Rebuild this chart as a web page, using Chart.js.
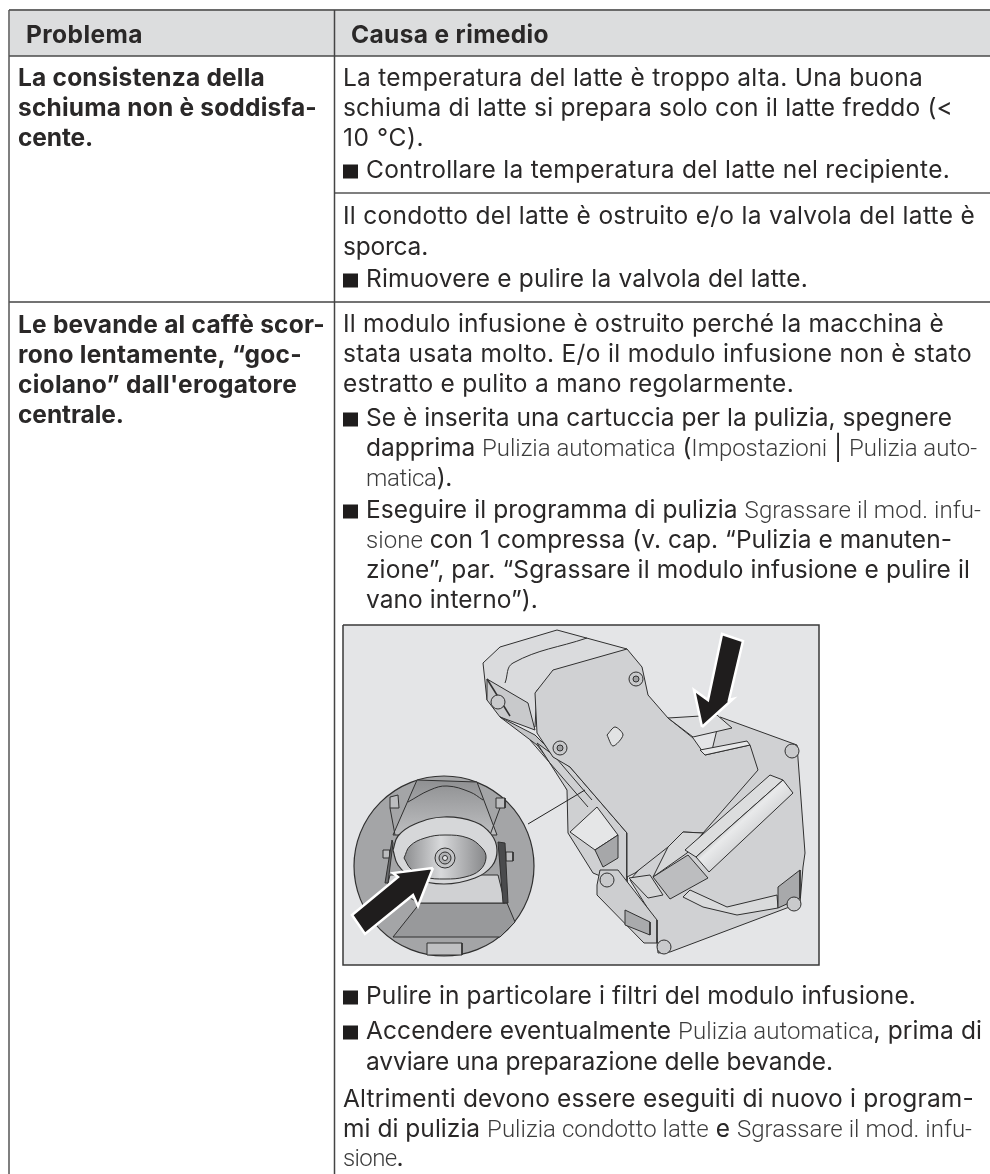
<!DOCTYPE html>
<html lang="it">
<head>
<meta charset="utf-8">
<title>Problema / Causa e rimedio</title>
<script src="https://cdn.jsdelivr.net/npm/chart.js@4/dist/chart.umd.min.js"></script>
<style>
  html, body { margin: 0; padding: 0; background: #fff; }
  canvas { display: block; }
</style>
</head>
<body>
<canvas id="tabella" width="990" height="1174"></canvas>
<script>
// Testi della tabella. Tra [ ] i nomi dei programmi, scritti in carattere sottile
const headerTexts = ["Problema", "Causa e rimedio"];
const problemLines = [
  "La consistenza della",
  "schiuma non è soddisfa-",
  "cente.",
  "Le bevande al caffè scor-",
  "rono lentamente, “goc-",
  "ciolano” dall'erogatore",
  "centrale."
];
const causeLines = [
  "La temperatura del latte è troppo alta. Una buona",
  "schiuma di latte si prepara solo con il latte freddo (<",
  "10 °C).",
  "* Controllare la temperatura del latte nel recipiente.",
  "Il condotto del latte è ostruito e/o la valvola del latte è",
  "sporca.",
  "* Rimuovere e pulire la valvola del latte.",
  "Il modulo infusione è ostruito perché la macchina è",
  "stata usata molto. E/o il modulo infusione non è stato",
  "estratto e pulito a mano regolarmente.",
  "* Se è inserita una cartuccia per la pulizia, spegnere",
  "> dapprima [Pulizia automatica] ([Impostazioni] | [Pulizia auto-]",
  "> [matica]).",
  "* Eseguire il programma di pulizia [Sgrassare il mod. infu-]",
  "> [sione] con 1 compressa (v. cap. “Pulizia e manuten-",
  "> zione”, par. “Sgrassare il modulo infusione e pulire il",
  "> vano interno”).",
  "* Pulire in particolare i filtri del modulo infusione.",
  "* Accendere eventualmente [Pulizia automatica], prima di",
  "> avviare una preparazione delle bevande.",
  "Altrimenti devono essere eseguiti di nuovo i program-",
  "mi di pulizia [Pulizia condotto latte] e [Sgrassare il mod. infu-]",
  "[sione]."
];
const headerEnds = [143, 549];
const problemBaselines = [86, 116, 146, 333, 363, 393, 423];
const problemEnds = [265, 317, 93, 325, 302, 297, 124];
const causeBaselines = [86, 116, 146, 178, 224, 255, 287, 332, 362, 392, 426, 456, 486, 518, 548, 578, 608, 1004, 1039, 1070, 1107, 1137, 1166];
const causeEnds = [923, 953, 424, 950, 975, 428, 808, 944, 972, 794, 952, 977, 452, 981, 952, 970, 538, 916, 982, 833, 974, 972, 403];

// Riquadri e linee della tabella, in unita' della pagina
const headerBand = [[10, 10], [990, 10], [990, 56], [10, 56]];
const ruleOuterLeft = [[9, 10], [9, 1174]];
const ruleColumn = [[334.5, 10], [334.5, 1174]];
const ruleTop = [[9, 10], [990, 10]];
const ruleHeader = [[9, 56], [990, 56]];
const ruleRow1 = [[334, 193], [990, 193]];
const ruleRow2 = [[9, 302], [990, 302]];

// Illustrazione del modulo infusione, ricalcata a mano
const photoBox = [[343, 625], [819, 625], [819, 965], [343, 965]];
const bodyLower = [[720, 717], [797, 745], [805, 853], [803, 867], [800, 903], [670, 952], [658, 953], [655, 920], [630, 880], [700, 800]];
const bodyBack = [[483, 663], [500, 647], [557, 630], [627, 649], [537, 690], [535, 727], [487, 700]];
const backCurve = [[505, 683], [513, 663], [587, 638]];
const openingBack = [[487, 679], [528, 703], [535, 730], [500, 717], [487, 700]];
const openingStrut = [[487, 679], [510, 716]];
const bodyPlate = [[627, 649], [642, 667], [648, 695], [668, 718], [693, 738], [705, 755], [750, 745], [758, 770], [703, 833], [683, 832], [668, 847], [635, 873], [627, 877], [627, 833], [570, 767], [553, 757], [537, 733], [535, 693], [553, 670]];
const plateWindow = [[668, 718], [717, 715], [732, 728], [693, 737]];
const plateLip = [[705, 755], [750, 745], [747, 741], [700, 750]];
const dShape = [[607, 735], [615, 727], [623, 735], [613, 746]];
const railSide = [[537, 743], [570, 767], [627, 833], [627, 887], [593, 873], [568, 833], [567, 790]];
const railLight = [[570, 832], [595, 850], [618, 835], [597, 807]];
const railHole = [[618, 835], [595, 850], [603, 867], [618, 858]];
const railStrip = [[500, 717], [537, 745], [560, 775], [567, 790], [575, 786], [550, 750], [535, 735]];
const railEdgeA = [[530, 740], [588, 807]];
const railEdgeB = [[545, 745], [592, 800]];
const railLower = [[600, 870], [618, 870], [657, 920], [657, 943], [644, 943], [597, 895], [597, 885]];
const footInner = [[625, 910], [650, 922], [650, 935], [625, 925]];
const leverPlate = [[629, 878], [650, 875], [663, 895], [648, 898]];
const lever = [[653, 877], [688, 855], [708, 878], [670, 899]];
const rollerBar = [[685, 850], [770, 775], [783, 780], [696, 857]];
const rollerTube = [[696, 857], [783, 780], [793, 793], [709, 872]];
const armTop = [[653, 877], [668, 847], [683, 832], [703, 833], [687, 853]];
const armBand = [[690, 890], [727, 907], [777, 895], [778, 908], [737, 915], [703, 907], [683, 897]];
const footRight = [[778, 887], [800, 870], [800, 898], [778, 908]];
const leaderLine = [[528, 824], [585, 790]];
const insetCylinder = [[417, 780], [477, 782], [497, 835], [393, 835]];
const insetCap = [[408, 802], [430, 790], [447, 786], [470, 792], [483, 800]];
const insetFloor = [[390, 875], [498, 875], [505, 903], [420, 903], [387, 887]];
const insetBase = [[420, 903], [507, 903], [515, 922], [500, 937], [393, 937]];
const insetFoot = [[427, 943], [462, 943], [462, 955], [427, 955]];
const insetTabLeft = [[390, 797], [398, 795], [399, 808], [390, 808]];
const insetTabRight = [[496, 798], [505, 798], [505, 808], [496, 808]];
const insetArmLeft = [[392, 840], [385, 883], [388, 883], [393, 843]];
const insetArmRight = [[498, 842], [505, 843], [508, 903], [503, 903]];
const insetKnobLeft = [[383, 850], [390, 850], [390, 858], [383, 858]];
const insetKnobRight = [[506, 852], [513, 852], [513, 861], [506, 861]];
const insetStrutLeft = [[390, 808], [395, 835]];
const insetStrutRight = [[500, 808], [490, 835]];
const filterRing = [[393, 850], [398, 836], [415, 824], [444, 817], [475, 822], [491, 834], [497, 850], [492, 866], [475, 878], [444, 884], [413, 878], [398, 865]];
const filterDisc = [[404, 858], [410, 846], [425, 838], [445, 835], [468, 838], [482, 848], [486, 858], [480, 870], [465, 877], [445, 879], [425, 877], [411, 869]];
const arrowUpper = [[702, 727], [694, 690], [708, 700], [722, 634], [743, 641], [729, 700], [733, 699]];
const arrowLower = [[433, 868], [418, 906], [413, 895], [365, 934], [352, 915], [398, 877], [393, 873]];

const insetCircle = [[444, 866]];
const screws = [[636, 679], [560, 748], [664, 947], [794, 904], [792, 751], [607, 880], [498, 702]];
const screwCores = [[636, 679], [560, 748]];
const filterCentre = [[445, 858]];
const filterHub = [[445, 858]];
const filterDot = [[445, 858]];

const INK = "#2a2828";
const LINE = "#303030";

const ctx = document.getElementById("tabella").getContext("2d");

const tubeShade = ctx.createLinearGradient(728, 812, 752, 838);
tubeShade.addColorStop(0, "#8f9092");
tubeShade.addColorStop(0.45, "#e9eaeb");
tubeShade.addColorStop(1, "#d2d3d5");

const discShade = ctx.createLinearGradient(404, 857, 486, 857);
discShade.addColorStop(0, "#8c8d8f");
discShade.addColorStop(0.45, "#d8d9db");
discShade.addColorStop(1, "#87888a");

const cylinderShade = ctx.createLinearGradient(445, 780, 445, 835);
cylinderShade.addColorStop(0, "#8f9092");
cylinderShade.addColorStop(1, "#bdbec0");

function toPoints(list) {
  return list.map(function (p) { return { x: p[0], y: p[1] }; });
}

function area(list, fillColor, strokeColor, strokeWidth, tension) {
  const pts = toPoints(list);
  pts.push(pts[0]);
  return {
    data: pts,
    showLine: true,
    fill: "shape",
    backgroundColor: fillColor,
    borderColor: strokeColor || "rgba(0,0,0,0)",
    borderWidth: strokeWidth === undefined ? 1 : strokeWidth,
    tension: tension || 0,
    pointRadius: 0,
    clip: false
  };
}

function rule(list, color, width, tension) {
  return {
    data: toPoints(list),
    showLine: true,
    fill: false,
    borderColor: color,
    borderWidth: width,
    tension: tension || 0,
    pointRadius: 0,
    clip: false
  };
}

function dots(list, radius, fillColor, strokeColor, strokeWidth) {
  return {
    data: toPoints(list),
    showLine: false,
    pointRadius: radius,
    pointBackgroundColor: fillColor,
    pointBorderColor: strokeColor,
    pointBorderWidth: strokeWidth,
    clip: false
  };
}

// In ordine di disegno, dal fondo verso l'alto
const layers = [
  area(headerBand, "#dcddde", null, 0),
  rule(ruleTop, "#6a6a6a", 2),
  rule(ruleHeader, "#4a4a4a", 1.5),
  rule(ruleRow1, "#555555", 1.5),
  rule(ruleRow2, "#444444", 1.5),
  rule(ruleOuterLeft, "#555555", 1.5),
  rule(ruleColumn, "#444444", 1.5),
  area(photoBox, "#e4e5e7", "#3a3a3a", 1.5),
  area(bodyLower, "#d0d1d3", LINE, 1),
  area(bodyBack, "#dadbdd", LINE, 1),
  rule(backCurve, LINE, 1, 0.4),
  area(openingBack, "#c8c9cb", LINE, 1),
  rule(openingStrut, LINE, 1.5),
  area(railStrip, "#c4c5c7", LINE, 1),
  area(railSide, "#cfd0d2", LINE, 1),
  area(railLight, "#e5e6e7", LINE, 1),
  area(railHole, "#a6a7a9", LINE, 1),
  rule(railEdgeA, LINE, 1),
  rule(railEdgeB, LINE, 1),
  area(bodyPlate, "#d0d1d3", LINE, 1),
  area(plateWindow, "#dcdddf", LINE, 1),
  area(plateLip, "#e6e7e8", LINE, 1),
  area(dShape, "#e2e3e4", LINE, 1, 0.3),
  area(railLower, "#cdced0", LINE, 1),
  area(footInner, "#a9aaac", LINE, 1),
  area(armTop, "#d6d7d8", LINE, 1),
  area(armBand, "#d9dadb", LINE, 1),
  area(footRight, "#a8a9ab", LINE, 1),
  area(rollerBar, "#dcddde", LINE, 1),
  area(rollerTube, tubeShade, LINE, 1),
  area(leverPlate, "#d4d5d6", LINE, 1),
  area(lever, "#bcbdbf", LINE, 1),
  rule(leaderLine, "#222222", 1),
  dots(screws, 7, "#c9cacc", LINE, 1),
  dots(screwCores, 3, "#a0a1a3", LINE, 1),
  dots(insetCircle, 90, "#a4a5a7", LINE, 1.2),
  area(insetCylinder, cylinderShade, LINE, 1),
  rule(insetCap, LINE, 1, 0.4),
  area(insetBase, "#98999b", LINE, 1),
  area(insetFloor, "#d0d1d3", LINE, 1),
  area(insetFoot, "#bfc0c2", LINE, 1),
  area(insetTabLeft, "#bcbdbf", LINE, 1),
  area(insetTabRight, "#bcbdbf", LINE, 1),
  rule(insetStrutLeft, LINE, 1),
  rule(insetStrutRight, LINE, 1),
  area(insetKnobLeft, "#bcbdbf", LINE, 1),
  area(insetKnobRight, "#bcbdbf", LINE, 1),
  area(insetArmLeft, "#6a6b6d", LINE, 1),
  area(insetArmRight, "#4a4b4d", LINE, 1),
  area(filterRing, "#d6d7d9", LINE, 1.2, 0.4),
  area(filterDisc, discShade, LINE, 1, 0.4),
  dots(filterCentre, 10, "#c4c5c7", LINE, 1),
  dots(filterHub, 6, "#b0b1b3", LINE, 1),
  dots(filterDot, 2.5, "#e8e9ea", LINE, 1),
  area(arrowUpper, "#1f1d1d", "#ffffff", 2.5),
  area(arrowLower, "#1f1d1d", "#ffffff", 2.5)
];

const FONT_SIZE = 24.5;
const FONT_FAMILY = "Inter, sans-serif";
const REGULAR_FONT = "400 " + FONT_SIZE + "px " + FONT_FAMILY;
const BOLD_FONT = "700 " + FONT_SIZE + "px " + FONT_FAMILY;
const LIGHT_FONT = "300 24px Roboto, sans-serif";

function splitRuns(text) {
  return text.split(/(\[[^\]]*\])/).filter(function (r) { return r !== ""; }).map(function (run) {
    const light = run.charAt(0) === "[";
    return { label: light ? run.slice(1, -1) : run, light: light };
  });
}

function drawFitted(c, runs, x, y, endX, regularFont) {
  let natural = 0;
  let chars = 0;
  c.letterSpacing = "0px";
  runs.forEach(function (run) {
    c.font = run.light ? LIGHT_FONT : regularFont;
    natural += c.measureText(run.label).width;
    chars += run.label.length;
  });
  const spacing = (endX - x - natural) / chars;
  c.letterSpacing = spacing.toFixed(3) + "px";
  runs.forEach(function (run) {
    c.font = run.light ? LIGHT_FONT : regularFont;
    c.fillStyle = run.light ? "#3c3c3c" : INK;
    c.fillText(run.label, x, y);
    x += c.measureText(run.label).width;
  });
  c.letterSpacing = "0px";
}

const tableText = {
  id: "tableText",
  afterDatasetsDraw(chart) {
    const c = chart.ctx;
    const sx = chart.scales.x;
    const sy = chart.scales.y;
    c.save();
    c.textBaseline = "alphabetic";
    c.textAlign = "left";

    drawFitted(c, [{ label: headerTexts[0] }], sx.getPixelForValue(26), sy.getPixelForValue(43), sx.getPixelForValue(headerEnds[0]), BOLD_FONT);
    drawFitted(c, [{ label: headerTexts[1] }], sx.getPixelForValue(351), sy.getPixelForValue(43), sx.getPixelForValue(headerEnds[1]), BOLD_FONT);

    problemLines.forEach(function (line, i) {
      drawFitted(c, [{ label: line }], sx.getPixelForValue(18), sy.getPixelForValue(problemBaselines[i]), sx.getPixelForValue(problemEnds[i]), BOLD_FONT);
    });

    causeLines.forEach(function (line, i) {
      const y = sy.getPixelForValue(causeBaselines[i]);
      let x = sx.getPixelForValue(343);
      if (line.indexOf("* ") === 0) {
        c.fillStyle = "#1f1d1d";
        c.fillRect(x, y - 13.5, 15, 14);
        line = line.slice(2);
        x = sx.getPixelForValue(366);
      } else if (line.indexOf("> ") === 0) {
        line = line.slice(2);
        x = sx.getPixelForValue(366);
      }
      drawFitted(c, splitRuns(line), x, y, sx.getPixelForValue(causeEnds[i]), REGULAR_FONT);
    });
    c.restore();
  }
};

new Chart(ctx, {
  type: "scatter",
  data: { datasets: layers.slice().reverse() },
  options: {
    responsive: false,
    animation: false,
    layout: { padding: 0, autoPadding: false },
    plugins: { legend: { display: false }, tooltip: { enabled: false }, title: { display: false } },
    scales: {
      x: { type: "linear", min: 0, max: 990, display: false },
      y: { type: "linear", min: 0, max: 1174, reverse: true, display: false }
    }
  },
  plugins: [tableText]
});
</script>
</body>
</html>
